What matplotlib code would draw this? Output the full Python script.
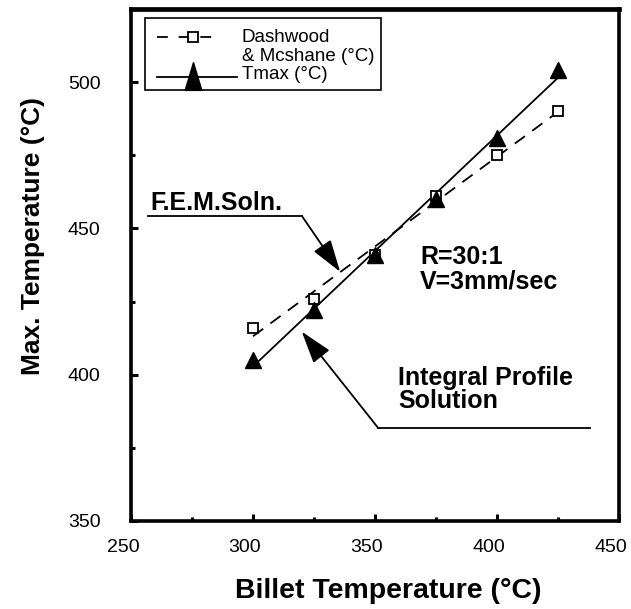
import numpy as np
import matplotlib
matplotlib.use("Agg")
import matplotlib.pyplot as plt
from matplotlib.lines import Line2D
from matplotlib.patches import Rectangle
from matplotlib.path import Path
from matplotlib.transforms import ScaledTranslation

plt.rcParams['font.family'] = ['Liberation Sans', 'DejaVu Sans']

# Billet temperature (°C) and maximum temperature (°C)
billet_temp = [300, 325, 350, 375, 400, 425]
dashwood_mcshane = [416, 426, 441, 461, 475, 490]
tmax = [405, 422, 441, 460, 481, 504]

x_ticks = [250, 300, 350, 400, 450]
y_ticks = [350, 400, 450, 500]

fig = plt.figure(figsize=(6.31, 6.09), dpi=100)
ax = fig.add_axes([0.2076, 0.1445, 0.7734, 0.8407])

x = np.array(billet_temp, dtype=float)
xs = np.array([x.min(), x.max()])

# straight-line fits through each series
p_dm = np.polyfit(x, dashwood_mcshane, 1)
p_tm = np.polyfit(x, tmax, 1)
ax.plot(xs, np.polyval(p_dm, xs), color='black', lw=1.3, dashes=(7, 5), zorder=2)
ax.plot(xs, np.polyval(p_tm, xs), color='black', lw=1.3, zorder=2)

ax.plot(x, dashwood_mcshane, linestyle='none', marker='s', markersize=7.5,
        markerfacecolor='white', markeredgecolor='black', markeredgewidth=1.3, zorder=3)
ax.plot(x, tmax, linestyle='none', marker='^', markersize=11,
        markerfacecolor='black', markeredgecolor='black', zorder=4)

ax.set_xlim(250, 450)
ax.set_ylim(350, 525)
ax.set_xticks(x_ticks)
ax.set_yticks(y_ticks)
ax.set_xticks([275, 325, 375, 425], minor=True)
ax.set_yticks([375, 425, 475], minor=True)
ax.tick_params(which='major', direction='in', length=5, width=2.2, labelsize=14)
ax.tick_params(axis='x', which='major', pad=13)
ax.tick_params(axis='y', which='major', pad=22)
ax.tick_params(which='minor', direction='in', length=3, width=2.2)
# x tick labels sit a little to the left of their ticks
shift = ScaledTranslation(-8 / 100, 0, fig.dpi_scale_trans)
for lab in ax.get_xticklabels():
    lab.set_transform(lab.get_transform() + shift)
for side in ['left', 'right', 'bottom']:
    ax.spines[side].set_linewidth(2.6)
ax.spines['top'].set_linewidth(3.4)

ax.set_xlabel('Billet Temperature (°C)', fontsize=20.5, fontweight='bold')
ax.set_ylabel('Max. Temperature (°C)', fontsize=19, fontweight='bold')
ax.xaxis.set_label_coords(0.528, -0.112)
ax.yaxis.set_label_coords(-0.176, 0.556)

# legend drawn in axes coordinates
T = ax.transAxes
ax.add_patch(Rectangle((0.0287, 0.842), 0.4836, 0.140, transform=T,
                       facecolor='white', edgecolor='black', lw=1.2, zorder=5))
ax.add_line(Line2D([0.0533, 0.178], [0.9453, 0.9453], transform=T, color='black',
                   lw=1.3, dashes=(6, 6), zorder=6))
ax.add_line(Line2D([0.127], [0.9453], transform=T, linestyle='none', marker='s',
                   markersize=7.5, markerfacecolor='white', markeredgecolor='black',
                   markeredgewidth=1.3, zorder=7))
tall_triangle = Path([(0, 1), (-0.6, -1), (0.6, -1), (0, 1)])
ax.add_line(Line2D([0.0533, 0.217], [0.8672, 0.8672], transform=T, color='black',
                   lw=1.3, zorder=6))
ax.add_line(Line2D([0.127], [0.8692], transform=T, linestyle='none', marker=tall_triangle,
                   markersize=20, markerfacecolor='black', markeredgecolor='black', zorder=7))
ax.text(0.2268, 0.9453, 'Dashwood', transform=T, fontsize=13.5, va='center', ha='left', zorder=7)
ax.text(0.2268, 0.9082, '& Mcshane (°C)', transform=T, fontsize=13.5, va='center', ha='left', zorder=7)
ax.text(0.2268, 0.8730, 'Tmax (°C)', transform=T, fontsize=13.5, va='center', ha='left', zorder=7)

# annotations
arrow_style = '-|>,head_length=1.0,head_width=0.32'
ax.text(257.8, 456.3, 'F.E.M.Soln.', fontsize=18, fontweight='bold', ha='left', va='baseline')
ax.plot([257.0, 320.0], [454.3, 454.3], color='black', lw=1.3)
ax.annotate('', xy=(335.7, 435.2), xytext=(320.0, 454.3),
            arrowprops=dict(arrowstyle=arrow_style, color='black', lw=1.3,
                            shrinkA=0, shrinkB=0, mutation_scale=20))

ax.text(368.4, 444.5, 'R=30:1\nV=3mm/sec', fontsize=18, fontweight='bold',
        ha='left', va='top', linespacing=1.05)

ax.text(359.4, 403.0, 'Integral Profile\nSolution', fontsize=18, fontweight='bold',
        ha='left', va='top', linespacing=0.95)
ax.plot([351.4, 438.1], [381.7, 381.7], color='black', lw=1.3)
ax.annotate('', xy=(320.0, 414.7), xytext=(351.4, 381.7),
            arrowprops=dict(arrowstyle=arrow_style, color='black', lw=1.3,
                            shrinkA=0, shrinkB=0, mutation_scale=20))

fig.savefig('out.png', dpi=100)
